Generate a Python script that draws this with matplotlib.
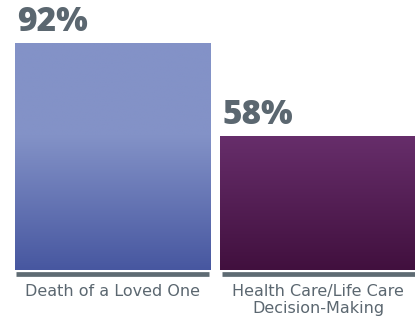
import numpy as np
import matplotlib
matplotlib.use("Agg")
import matplotlib.pyplot as plt
from matplotlib.colors import to_rgb
from matplotlib.transforms import blended_transform_factory

# Datos del gráfico
categorias = ["Death of a Loved One", "Health Care/Life Care\nDecision-Making"]
valores = [92, 58]
etiquetas = ["92%", "58%"]

# Colores: tono superior e inferior del degradado de cada barra
color_arriba = ["#8392c7", "#672e6b"]
color_abajo = ["#4757a0", "#41103e"]
gris_texto = "#5b6770"
gris_base = "#5e6b73"

ancho = 0.95
y_min = 9
y_max = 107.7

fig = plt.figure(figsize=(4.15, 3.2), dpi=100)
ax = fig.add_axes([15 / 415, 50 / 320, 400.7 / 415, 270 / 320])
ax.set_xlim(-ancho / 2, 1 + ancho / 2)
ax.set_ylim(y_min, y_max)

x = np.arange(len(valores))
barras = ax.bar(x, valores, width=ancho, color="none", edgecolor="none")

# Degradado vertical: el color se oscurece desde la altura de la barra más baja
inicio_degradado = min(valores)
for i, b in enumerate(barras):
    ys = np.linspace(y_min, valores[i], 300)
    t = np.clip((ys - y_min) / (inicio_degradado - y_min), 0, 1)
    top = np.array(to_rgb(color_arriba[i]))
    bot = np.array(to_rgb(color_abajo[i]))
    img = bot[None, :] + t[:, None] * (top - bot)[None, :]
    img = img[:, None, :]
    im = ax.imshow(img, origin="lower", aspect="auto", interpolation="bilinear",
                   extent=[b.get_x(), b.get_x() + b.get_width(), y_min, valores[i]])
    im.set_clip_path(b)

    ax.text(b.get_x() + 0.01, valores[i] + 1.6, etiquetas[i], ha="left", va="bottom",
            fontsize=24, fontweight="extra bold", color=gris_texto,
            family="Open Sans")

# Línea gris bajo cada barra
trans = blended_transform_factory(ax.transData, ax.transAxes)
for i, b in enumerate(barras):
    ax.plot([b.get_x() + 0.005, b.get_x() + b.get_width() - 0.005], [-0.0165, -0.0165],
            transform=trans, color=gris_base, lw=3.4, clip_on=False,
            solid_capstyle="butt")

ax.set_xticks(x)
ax.set_xticklabels(categorias, fontsize=11.5, color=gris_texto, family="DejaVu Sans",
                   linespacing=1.2)
ax.tick_params(axis="x", length=0, pad=10)
ax.set_yticks([])
for s in ax.spines.values():
    s.set_visible(False)

fig.savefig("out.png", dpi=100)
